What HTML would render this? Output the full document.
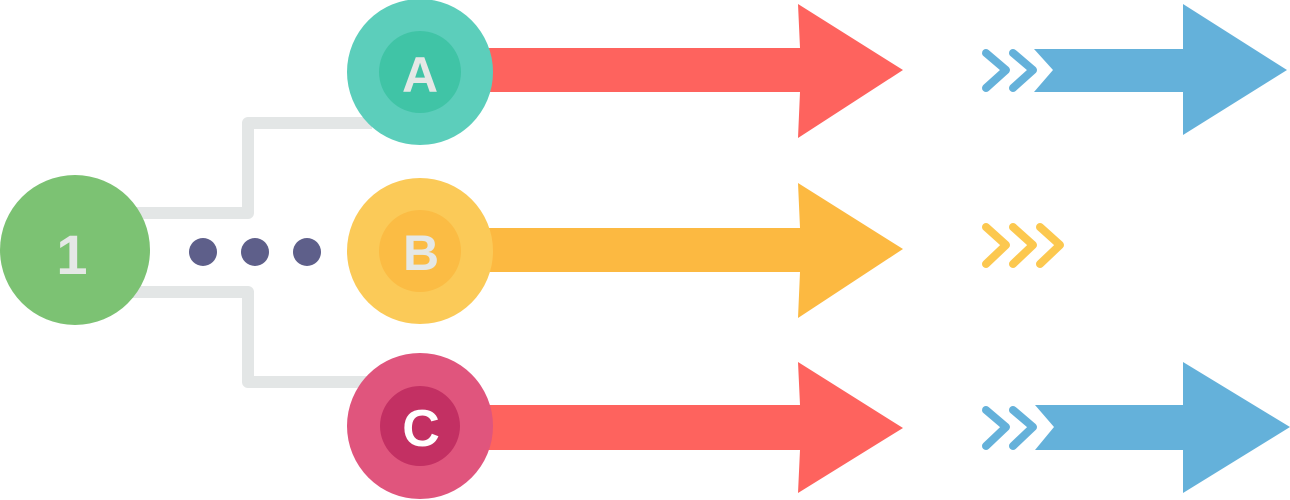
<!DOCTYPE html>
<html><head><style>body{margin:0;background:#fff}svg{display:block}</style></head><body>
<svg width="1290" height="500" viewBox="0 0 1290 500" xmlns="http://www.w3.org/2000/svg">
<g fill="none" stroke="#e3e6e6" stroke-width="12" stroke-linejoin="round">
<path d="M130 213 L248 213 L248 123 L372 123"/>
<path d="M130 292 L248 292 L248 382 L370 382"/>
</g>
<circle cx="75" cy="250" r="75" fill="#7cc273"/>
<text x="72" y="274" font-family="Liberation Sans, sans-serif" font-weight="bold" font-size="56" fill="#e5e8e6" text-anchor="middle">1</text>
<g fill="#5e5f8a"><circle cx="203" cy="252" r="14"/><circle cx="255" cy="252" r="14"/><circle cx="307" cy="252" r="14"/></g>
<!-- arrows -->
<polygon points="488,48 800,48 798,4 903,70 798,138 800,92 488,92" fill="#fe635e"/>
<polygon points="488,228 800,228 798,183 903,249 798,318 800,272 488,272" fill="#fcb941"/>
<polygon points="488,405 800,405 798,362 903,428 798,493 800,450 488,450" fill="#fe635e"/>
<polygon points="1034,49 1183,49 1183,4 1287,70 1183,135 1183,92 1034,92 1053,70" fill="#64b1da"/>
<polygon points="1035,405 1183,405 1183,362 1290,427 1183,493 1183,450 1035,450 1054,427" fill="#64b1da"/>
<g fill="none" stroke-width="8" stroke-linecap="round" stroke-linejoin="round">
<g stroke="#64b1da"><path d="M986 53 L1006 70 L986 88"/><path d="M1013 53 L1033 70 L1013 88"/>
<path d="M986 410 L1006 427 L986 446"/><path d="M1013 410 L1033 427 L1013 446"/></g>
<g stroke="#fcc84f"><path d="M986 227 L1006 245 L986 264"/><path d="M1013 227 L1033 245 L1013 264"/><path d="M1040 227 L1060 245 L1040 264"/></g>
</g>
<circle cx="420" cy="72" r="73" fill="#5ccebb"/><circle cx="420" cy="72" r="41" fill="#40c4a6"/>
<text x="420" y="92" font-family="Liberation Sans, sans-serif" font-weight="bold" font-size="50" fill="#e5e8e6" text-anchor="middle">A</text>
<circle cx="420" cy="251" r="73" fill="#fbca58"/><circle cx="420" cy="251" r="41" fill="#fbbc44"/>
<text x="421" y="270" font-family="Liberation Sans, sans-serif" font-weight="bold" font-size="50" fill="#e5e8e6" text-anchor="middle">B</text>
<circle cx="420" cy="426" r="73" fill="#e0557d"/><circle cx="420" cy="426" r="40" fill="#c33063"/>
<text x="421" y="446" font-family="Liberation Sans, sans-serif" font-weight="bold" font-size="52" fill="#fff" text-anchor="middle">C</text>
</svg>
</body></html>
